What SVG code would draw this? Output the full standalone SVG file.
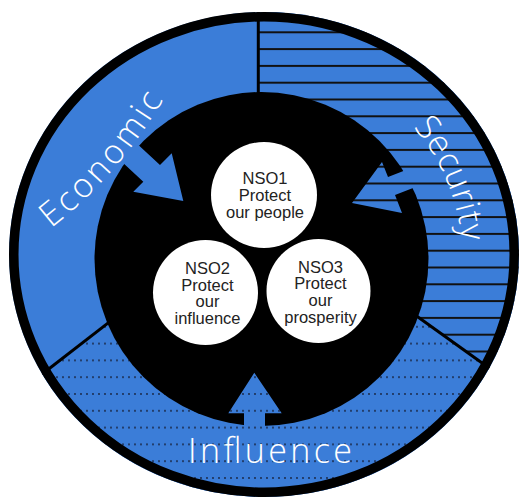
<svg xmlns="http://www.w3.org/2000/svg" width="523" height="498" viewBox="0 0 523 498">
  <defs>
    <style>
      .blue { fill: #3b7dd8; }
      .hatch { fill: url(#hatch); }
      .dots { fill: url(#dots); }
      .divider { stroke: #000; stroke-width: 3; fill: none; }
      .node circle { fill: #fff; }
      .node text { font-family: "Liberation Sans", Arial, sans-serif; font-size: 16.5px; fill: #222; text-anchor: middle; }
      .label { font-family: "Open Sans", Inter, sans-serif; font-weight: 300; font-size: 34px; fill: #fff; }
    </style>
    <!-- horizontal rules for the Security sector -->
    <pattern id="hatch" patternUnits="userSpaceOnUse" x="0" y="31.3" width="20" height="16.8">
      <rect width="20" height="16.8" fill="#3b7dd8"/>
      <rect width="20" height="2" fill="#111"/>
    </pattern>
    <!-- dotted rows for the Influence sector -->
    <pattern id="dots" patternUnits="userSpaceOnUse" x="0" y="6.6" width="6" height="16.8">
      <rect width="6" height="16.8" fill="#3b7dd8"/>
      <circle cx="3" cy="1" r="0.9" fill="#16203a"/>
    </pattern>
    <clipPath id="disc">
      <ellipse cx="264" cy="254.5" rx="255" ry="242.5"/>
    </clipPath>
    <path id="economic-path" d="M51,228.5 Q120,174.5 166,95"/>
    <path id="security-path" d="M406.1,119.4 A201,201 0 0 1 461.7,276.5"/>
  </defs>

  <!-- outer ring sectors -->
  <g id="sectors" clip-path="url(#disc)">
    <rect id="economic-zone" class="blue" x="0" y="0" width="523" height="498"/>
    <path id="security-zone" class="hatch" d="M258.3,-10 H540 V404.4 L262,205.2 L258.3,205.2 Z"/>
    <path id="influence-zone" class="dots" d="M-10,414.6 L262,204 L540,404.4 V510 H-10 Z"/>
    <line class="divider" x1="258.3" y1="10" x2="258.3" y2="95"/>
    <line class="divider" x1="40" y1="375.8" x2="115" y2="317.6"/>
    <line class="divider" x1="412" y1="312.7" x2="495" y2="372.2"/>
  </g>
  <ellipse id="rim" cx="264" cy="254.5" rx="250.25" ry="237.75" fill="none" stroke="#000" stroke-width="9.5"/>

  <!-- central disc -->
  <circle id="core" cx="261.5" cy="259" r="167" fill="#000"/>

  <!-- arrows feeding the core from each sector -->
  <g id="connectors">
    <polygon class="blue" points="183.3,201 171.7,153.3 160,165 130.6,137.8 114,154.5 143.3,181.7 133.3,191.7"/>
    <polygon class="hatch" points="352,203 382,162 388,177 425.3,162.6 432.3,180.6 395,195 402,213"/>
    <polygon class="dots" points="254.3,372.7 281.7,413.3 265,413.3 265,445 244,445 244,413.3 228.3,413.3"/>
  </g>

  <!-- objectives -->
  <g id="nso1" class="node">
    <circle cx="264" cy="195" r="53"/>
    <text x="265" y="184">NSO1</text>
    <text x="265" y="201">Protect</text>
    <text x="265" y="218">our people</text>
  </g>
  <g id="nso2" class="node">
    <circle cx="205.5" cy="292.5" r="52.5"/>
    <text x="207.5" y="274">NSO2</text>
    <text x="207.5" y="290.7">Protect</text>
    <text x="207.5" y="307">our</text>
    <text x="207.5" y="324">influence</text>
  </g>
  <g id="nso3" class="node">
    <circle cx="318.5" cy="291" r="52"/>
    <text x="320.5" y="272.5">NSO3</text>
    <text x="320.5" y="289">Protect</text>
    <text x="320.5" y="306">our</text>
    <text x="320.5" y="322.8">prosperity</text>
  </g>

  <!-- sector labels -->
  <g id="labels">
    <text class="label"><textPath href="#economic-path" textLength="172" lengthAdjust="spacing">Economic</textPath></text>
    <text class="label" font-size="33"><textPath href="#security-path" startOffset="10.5" textLength="126" lengthAdjust="spacing">Security</textPath></text>
    <text class="label" x="188" y="463" textLength="164" lengthAdjust="spacing">Influence</text>
  </g>
</svg>
